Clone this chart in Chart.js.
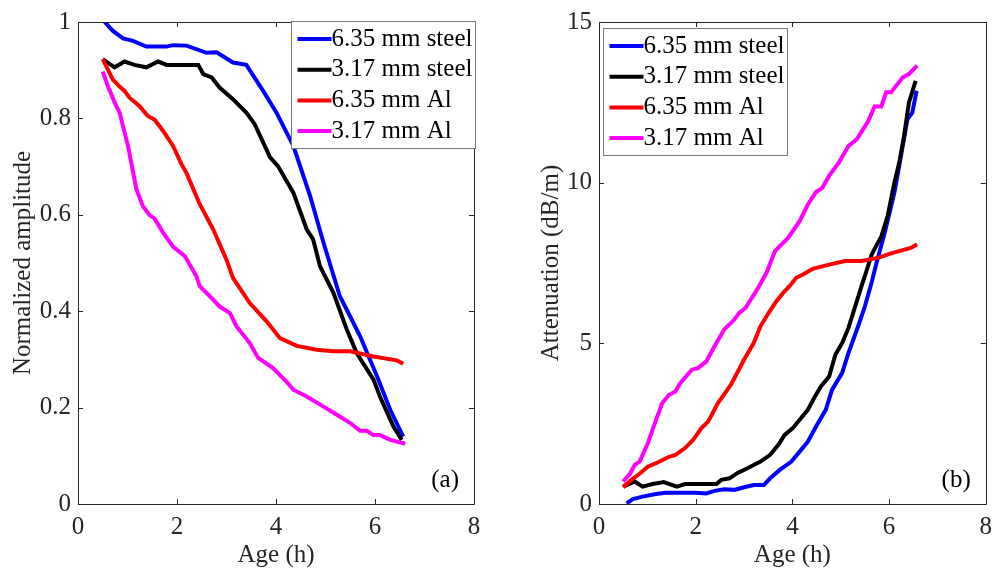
<!DOCTYPE html>
<html>
<head>
<meta charset="utf-8">
<script src="https://cdn.jsdelivr.net/npm/chart.js@4/dist/chart.umd.min.js"></script>
<style>
  body { margin: 0; background: #fff; }
  .panel { position: absolute; top: 0; width: 500px; height: 569px; }
</style>
</head>
<body>
<div class="panel" style="left:0"><canvas id="ampChart" width="500" height="569"></canvas></div>
<div class="panel" style="left:500px"><canvas id="attChart" width="500" height="569"></canvas></div>
<script>
// series labels + colours (legend order)
const seriesNames = ['6.35 mm steel', '3.17 mm steel', '6.35 mm Al', '3.17 mm Al'];
const seriesColors = ['#0000ff', '#000000', '#ff0000', '#ff00ff'];

// x ticks shared by both panels
const ageTicks = [0, 2, 4, 6, 8];
const ampTicks = [0, 0.2, 0.4, 0.6, 0.8, 1];
const attTicks = [0, 5, 10, 15];

// (a) normalized amplitude
const ampSteel635X = [0.54,0.70,0.91,1.11,1.38,1.79,1.92,2.19,2.60,2.80,3.13,3.40,3.74,4.01,4.35,4.69,4.96,5.29,5.43,5.70,6.04,6.31,6.57];
const ampSteel635Y = [1.0,0.982,0.966,0.961,0.949,0.949,0.952,0.951,0.936,0.937,0.916,0.911,0.857,0.812,0.743,0.639,0.542,0.431,0.403,0.348,0.265,0.195,0.140];
const ampSteel317X = [0.50,0.74,0.94,1.14,1.38,1.62,1.79,2.43,2.53,2.70,2.86,3.13,3.40,3.57,3.88,4.04,4.35,4.62,4.75,4.89,5.16,5.43,5.63,5.97,6.10,6.37,6.54];
const ampSteel317Y = [0.923,0.906,0.918,0.911,0.906,0.918,0.911,0.911,0.892,0.885,0.864,0.840,0.812,0.788,0.719,0.701,0.646,0.570,0.549,0.493,0.438,0.362,0.313,0.258,0.223,0.161,0.133];
const ampAl635X = [0.50,0.70,0.84,0.94,1.04,1.24,1.41,1.55,1.72,1.92,2.09,2.19,2.46,2.73,3.00,3.13,3.47,3.81,4.08,4.42,4.82,5.16,5.50,5.97,6.44,6.57];
const ampAl635Y = [0.923,0.881,0.866,0.857,0.843,0.826,0.805,0.797,0.774,0.743,0.705,0.687,0.622,0.570,0.507,0.469,0.417,0.379,0.344,0.328,0.320,0.317,0.317,0.306,0.298,0.291];
const ampAl317X = [0.50,0.60,0.74,0.84,1.01,1.18,1.31,1.45,1.55,1.72,1.92,2.16,2.39,2.46,2.73,2.86,3.07,3.20,3.47,3.64,3.94,4.21,4.35,4.62,4.96,5.23,5.50,5.70,5.83,5.97,6.10,6.31,6.61];
const ampAl317Y = [0.897,0.868,0.833,0.812,0.743,0.653,0.618,0.599,0.592,0.563,0.534,0.514,0.473,0.452,0.424,0.410,0.396,0.369,0.334,0.303,0.282,0.254,0.237,0.223,0.202,0.185,0.168,0.152,0.152,0.143,0.143,0.133,0.125];

// (b) attenuation in dB/m
const attSteel635X = [0.57,0.70,0.90,1.18,1.38,1.99,2.22,2.39,2.59,2.80,3.00,3.20,3.41,3.54,3.74,3.98,4.15,4.32,4.49,4.69,4.82,5.03,5.16,5.36,5.50,5.64,5.74,5.91,6.11,6.21,6.38,6.48,6.57];
const attSteel635Y = [0.02,0.15,0.23,0.31,0.35,0.35,0.33,0.41,0.46,0.44,0.52,0.59,0.59,0.80,1.06,1.32,1.63,1.94,2.41,2.93,3.55,4.08,4.70,5.53,6.15,6.9,7.5,8.44,9.69,10.52,11.97,12.18,12.86];
const attSteel317X = [0.50,0.74,0.90,1.11,1.34,1.61,1.78,2.43,2.53,2.70,2.86,3.07,3.34,3.54,3.71,3.84,4.01,4.15,4.32,4.45,4.59,4.76,4.89,5.03,5.16,5.30,5.43,5.53,5.64,5.84,5.97,6.11,6.21,6.31,6.41,6.55];
const attSteel317Y = [0.54,0.70,0.54,0.62,0.68,0.54,0.62,0.62,0.75,0.80,0.96,1.11,1.32,1.53,1.84,2.15,2.36,2.62,2.93,3.30,3.66,3.97,4.65,5.01,5.48,6.15,6.78,7.24,7.76,8.33,8.96,10.0,10.62,11.45,12.49,13.17];
const attAl635X = [0.50,0.67,0.84,1.01,1.18,1.45,1.58,1.78,1.95,2.12,2.26,2.46,2.73,3.00,3.20,3.34,3.51,3.67,3.81,3.94,4.08,4.22,4.42,4.76,5.09,5.43,5.77,6.04,6.45,6.58];
const attAl635Y = [0.52,0.75,0.94,1.16,1.27,1.47,1.53,1.74,2.00,2.36,2.57,3.14,3.71,4.49,5.01,5.53,5.95,6.31,6.57,6.78,7.04,7.14,7.32,7.45,7.56,7.56,7.66,7.80,7.97,8.08];
const attAl317X = [0.50,0.64,0.74,0.84,1.01,1.18,1.31,1.45,1.58,1.68,1.92,2.05,2.22,2.39,2.59,2.80,2.90,3.03,3.27,3.47,3.64,3.91,4.15,4.32,4.49,4.62,4.76,4.96,5.16,5.33,5.57,5.70,5.84,5.94,6.04,6.28,6.41,6.58];
const attAl317Y = [0.70,0.94,1.22,1.32,1.89,2.62,3.14,3.40,3.50,3.76,4.18,4.23,4.44,4.91,5.43,5.74,5.95,6.10,6.67,7.21,7.87,8.28,8.80,9.32,9.71,9.84,10.21,10.62,11.14,11.35,11.92,12.37,12.37,12.81,12.81,13.27,13.38,13.64];

const axisColor = '#262626';
const fontFamily = "'Liberation Serif', 'Times New Roman', serif";
const fontSize = 25;

function toPoints(xs, ys) {
    return xs.map((x, i) => ({x: x, y: ys[i]}));
}

function makeDatasets(pairs) {
    return pairs.map((p, i) => ({
        label: seriesNames[i],
        data: toPoints(p[0], p[1]),
        borderColor: seriesColors[i],
        borderWidth: 4,
        pointRadius: 0,
        tension: 0,
        fill: false,
        order: pairs.length - i   // later series drawn on top
    }));
}

// matlab style tick text: 1 not 1.0
function tickText(v) {
    return String(Math.round(v * 100) / 100);
}

// box, inward ticks on all four sides, legend box and panel letter
const framePlugin = {
    id: 'frame',
    afterDatasetsDraw(chart, args, opts) {
        const ctx = chart.ctx;
        const a = chart.chartArea;
        const xs = chart.scales.x, ys = chart.scales.y;
        const tl = 5;
        ctx.save();
        ctx.strokeStyle = axisColor;
        ctx.lineWidth = 1;
        ctx.beginPath();
        ctx.rect(Math.round(a.left) + 0.5, Math.round(a.top) + 0.5,
                 Math.round(a.right) - Math.round(a.left), Math.round(a.bottom) - Math.round(a.top));
        xs.ticks.forEach(t => {
            const px = Math.round(xs.getPixelForValue(t.value)) + 0.5;
            ctx.moveTo(px, a.bottom); ctx.lineTo(px, a.bottom - tl);
            ctx.moveTo(px, a.top); ctx.lineTo(px, a.top + tl);
        });
        ys.ticks.forEach(t => {
            const py = Math.round(ys.getPixelForValue(t.value)) + 0.5;
            ctx.moveTo(a.left, py); ctx.lineTo(a.left + tl, py);
            ctx.moveTo(a.right, py); ctx.lineTo(a.right - tl, py);
        });
        ctx.stroke();

        // legend
        const lg = opts.legend;
        const bx = Math.round(a.left + lg.dx) + 0.5, by = Math.round(a.top + lg.dy) + 0.5;
        ctx.fillStyle = '#ffffff';
        ctx.fillRect(bx, by, lg.w, lg.h);
        ctx.strokeStyle = '#7a7a7a';
        ctx.strokeRect(bx, by, lg.w, lg.h);
        ctx.font = fontSize + 'px ' + fontFamily;
        ctx.textBaseline = 'middle';
        ctx.textAlign = 'left';
        chart.data.datasets.forEach((ds, i) => {
            const ry = by + 17.5 + i * 30.7;
            ctx.strokeStyle = ds.borderColor;
            ctx.lineWidth = 4;
            ctx.beginPath();
            ctx.moveTo(bx + 6, ry); ctx.lineTo(bx + 40, ry);
            ctx.stroke();
            ctx.fillStyle = '#000000';
            ctx.fillText(ds.label, bx + 40, ry);
        });

        // panel letter
        ctx.fillStyle = '#000000';
        ctx.textAlign = 'right';
        ctx.fillText(opts.letter, a.right - 15, a.bottom - 24);
        ctx.restore();
    }
};

function makeChart(id, datasets, yTicks, yMax, yTitle, yWidth, yTitlePad, padRight, legendPos, letter) {
    const ctx = document.getElementById(id).getContext('2d');
    return new Chart(ctx, {
        type: 'line',
        data: { datasets: datasets },
        options: {
            responsive: false,
            animation: false,
            layout: { padding: { left: 0, top: 22, right: padRight, bottom: 0 } },
            plugins: {
                legend: { display: false },
                tooltip: { enabled: false },
                frame: { legend: legendPos, letter: letter }
            },
            scales: {
                x: {
                    type: 'linear',
                    min: 0, max: 8,
                    afterBuildTicks: s => { s.ticks = ageTicks.map(v => ({value: v})); },
                    afterFit: s => { s.height = 65; },
                    grid: { display: false, drawTicks: false },
                    border: { display: false },
                    ticks: { padding: 8, color: axisColor, font: { family: fontFamily, size: fontSize },
                             maxRotation: 0, callback: tickText },
                    title: { display: true, text: 'Age (h)', color: axisColor,
                             font: { family: fontFamily, size: fontSize }, padding: { top: 0, bottom: -1 } }
                },
                y: {
                    type: 'linear',
                    min: 0, max: yMax,
                    afterBuildTicks: s => { s.ticks = yTicks.map(v => ({value: v})); },
                    afterFit: s => { s.width = yWidth; },
                    grid: { display: false, drawTicks: false },
                    border: { display: false },
                    ticks: { padding: 7, color: axisColor, font: { family: fontFamily, size: fontSize },
                             callback: tickText },
                    title: { display: true, text: yTitle, color: axisColor,
                             font: { family: fontFamily, size: fontSize }, padding: { top: yTitlePad, bottom: 0 } }
                }
            }
        },
        plugins: [framePlugin]
    });
}

makeChart('ampChart',
    makeDatasets([[ampSteel635X, ampSteel635Y], [ampSteel317X, ampSteel317Y], [ampAl635X, ampAl635Y], [ampAl317X, ampAl317Y]]),
    ampTicks, 1, 'Normalized amplitude', 78, 8, 26,
    { dx: 213, dy: -1, w: 184, h: 127 }, '(a)');

makeChart('attChart',
    makeDatasets([[attSteel635X, attSteel635Y], [attSteel317X, attSteel317Y], [attAl635X, attAl635Y], [attAl317X, attAl317Y]]),
    attTicks, 15, 'Attenuation (dB/m)', 99, 36, 7,
    { dx: 4, dy: 6, w: 184, h: 127 }, '(b)');
</script>
</body>
</html>
